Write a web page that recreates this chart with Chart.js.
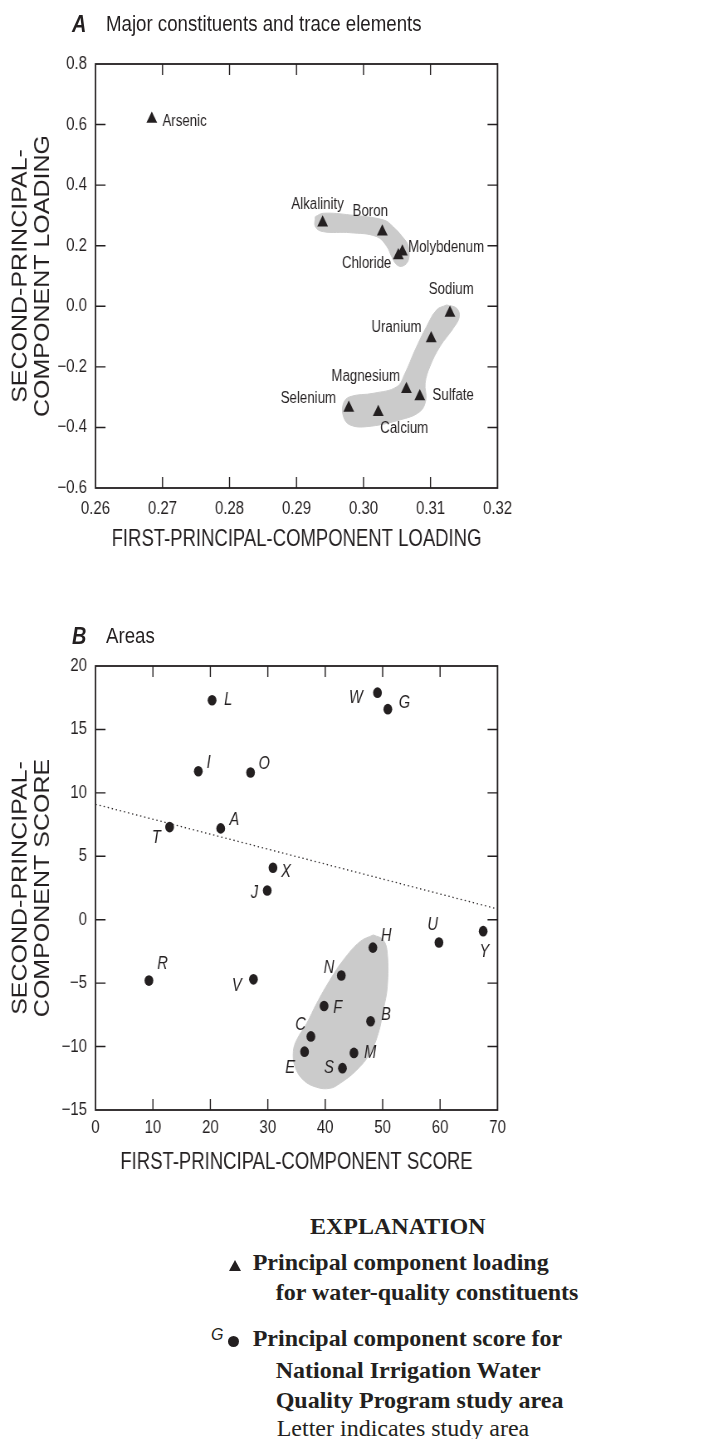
<!DOCTYPE html>
<html><head><meta charset="utf-8">
<script src="https://cdn.jsdelivr.net/npm/chart.js@4"></script>
<style>
html,body{margin:0;padding:0;background:#fff;}
body{width:703px;height:1439px;position:relative;overflow:hidden;}
.sq{position:absolute;left:0;width:847px;height:600px;transform:scaleX(0.83);transform-origin:0 0;}
.ttl{position:absolute;font-family:"Liberation Sans",Arial,sans-serif;font-size:22.5px;line-height:1;color:#231f20;white-space:nowrap;}
.ttl b{font-size:24px;font-style:italic;font-weight:bold;}
.ex{position:absolute;font-family:"Liberation Serif","Times New Roman",serif;font-size:24px;line-height:1;color:#231f20;white-space:nowrap;font-weight:bold;}
canvas{position:absolute;left:0;top:0;}
.tri{position:absolute;width:0;height:0;border-left:6.5px solid transparent;border-right:6.5px solid transparent;border-bottom:11px solid #231f20;}
.dot{position:absolute;width:11px;height:11px;border-radius:50%;background:#231f20;}
</style>
</head><body>
<div class="sq" style="top:0">
  <div class="ttl" style="left:86.7px;top:12px"><b>A</b></div>
  <div class="ttl" style="left:127.7px;top:12.5px">Major constituents and trace elements</div>
  <canvas id="cA" width="847" height="600" style="width:847px;height:600px"></canvas>
</div>
<div class="sq" style="top:600px">
  <div class="ttl" style="left:86.7px;top:24px"><b>B</b></div>
  <div class="ttl" style="left:127.7px;top:24.5px">Areas</div>
  <canvas id="cB" width="847" height="600" style="width:847px;height:600px"></canvas>
</div>

<div class="ex" style="left:310px;top:1214px;width:175px;text-align:center">EXPLANATION</div>
<div class="tri" style="left:228.5px;top:1259.5px"></div>
<div class="ex" style="left:252.7px;top:1249.7px">Principal component loading</div>
<div class="ex" style="left:275.7px;top:1279.7px">for water-quality constituents</div>
<div style="position:absolute;left:211px;top:1327px;font-family:'Liberation Sans',Arial,sans-serif;font-style:italic;font-size:16px;line-height:1;color:#231f20">G</div>
<div class="dot" style="left:228px;top:1336px"></div>
<div class="ex" style="left:252.7px;top:1326.3px">Principal component score for</div>
<div class="ex" style="left:275.7px;top:1358px">National Irrigation Water</div>
<div class="ex" style="left:275.7px;top:1388px">Quality Program study area</div>
<div class="ex" style="left:276.7px;top:1416.3px;font-weight:normal">Letter indicates study area</div>

<script>
// ---------- DATA ----------
const constituents = ['Arsenic','Alkalinity','Boron','Molybdenum','Chloride','Sodium','Uranium','Magnesium','Sulfate','Selenium','Calcium'];
const loading1 = [0.2684,0.2939,0.3028,0.3058,0.3052,0.3129,0.3101,0.3064,0.3084,0.2978,0.3022];
const loading2 = [0.618,0.276,0.246,0.180,0.168,-0.022,-0.106,-0.274,-0.298,-0.336,-0.350];

const areas  = ['L','W','G','I','O','T','A','X','J','U','Y','H','R','V','N','F','B','C','E','M','S'];
const score1 = [20.3,49.1,50.9,17.9,27.0,12.9,21.8,30.9,29.9,59.8,67.5,48.3,9.3,27.5,42.8,39.8,47.9,37.5,36.4,45.0,43.0];
const score2 = [17.3,17.9,16.6,11.7,11.6,7.3,7.2,4.1,2.3,-1.8,-0.9,-2.2,-4.8,-4.7,-4.4,-6.8,-8.0,-9.2,-10.4,-10.5,-11.7];

const xTicksA = ['0.26','0.27','0.28','0.29','0.30','0.31','0.32'];
const yTicksA = ['\u22120.6','\u22120.4','\u22120.2','0.0','0.2','0.4','0.6','0.8'];
const xTicksB = ['0','10','20','30','40','50','60','70'];
const yTicksB = ['\u221215','\u221210','\u22125','0','5','10','15','20'];

// dotted dividing line (panel B)
const trendX = [0, 70];
const trendY = [9.1, 0.85];

// shaded groups (outlines in data units)
const groupA1x = [0.2928,0.2940,0.2980,0.3030,0.3044,0.3062,0.3067,0.3067,0.3059,0.3050,0.3042,0.3035,0.3020,0.2980,0.2940,0.2928];
const groupA1y = [0.2959,0.3071,0.3015,0.2850,0.2629,0.2189,0.1968,0.1529,0.1331,0.1364,0.1638,0.1968,0.2298,0.2430,0.2464,0.2628];
const groupA2x = [0.3124,0.3139,0.3143,0.3134,0.3114,0.3099,0.3092,0.3093,0.3084,0.3054,0.3005,0.2980,0.2970,0.2970,0.2980,0.3015,0.3050,0.3062,0.3077,0.3094,0.3109];
const groupA2y = [0.0044,-0.0065,-0.0343,-0.0726,-0.1333,-0.1994,-0.2541,-0.3093,-0.3479,-0.3753,-0.3974,-0.3918,-0.3644,-0.3202,-0.2984,-0.2872,-0.2654,-0.2211,-0.1442,-0.0673,-0.0122];
const groupBx = [48.38,50.11,50.81,50.81,50.11,49.24,47.80,45.48,42.57,40.83,38.52,36.18,34.74,34.44,35.03,36.78,38.52,40.83,43.15,46.06];
const groupBy = [-1.2,-1.6,-2.65,-5.28,-7.12,-8.95,-10.53,-11.85,-12.9,-13.29,-13.21,-12.63,-11.59,-10.4,-9.48,-8.17,-6.59,-4.75,-3.18,-1.73];

// ---------- STYLE ----------
const S = 0.83;                    // horizontal compression of the figure
const INK = '#231f20';
const GREY = '#cbcbcb';
const FONT = '"Liberation Sans", Arial, sans-serif';
// label placement relative to marker (screen px): [dx, dy, align]
const placeA = [[10.6,2.5,'left'],[-5,-18.5,'center'],[-12,-20.5,'center'],[5.7,-4.5,'left'],[-7,8.5,'right'],
  [1.3,-23,'center'],[-9.6,-10.5,'right'],[-6.3,-12.5,'right'],[12.7,-0.5,'left'],[-12.7,-9.5,'right'],[2,16.5,'left']];
const placeB = [[16,0],[-21.7,5.3],[16.6,-6],[10.3,-8],[13.6,-8],[-13.3,11.3],[13.6,-8],[13,4.6],[-12.7,3],[-6.3,-17.3],
  [1.3,20.7],[13.3,-11],[13.7,-16],[-16.6,7],[-12.3,-7],[13.7,2.3],[15.4,-5.6],[-10.4,-11.3],[-14.3,16.3],[16.3,0.7],[-13.4,0]];

const toNum = s => parseFloat(s.replace('\u2212','-'));
const pts = (xs, ys) => xs.map((v,i)=>({x:v, y:ys[i]}));
const closed = (xs, ys) => { const p = pts(xs, ys); p.push({...p[0]}); return p; };

const framePlugin = {
  id: 'frame',
  afterDatasetsDraw(chart, args, o) {
    const {ctx, chartArea:a, scales:{x, y}} = chart;
    ctx.save();
    ctx.strokeStyle = INK;
    ctx.lineWidth = 1.4;
    const tl = 11, tly = 10 / S;
    x.ticks.forEach((t,i) => {
      if (i === 0 || i === x.ticks.length-1) return;
      const px = x.getPixelForValue(t.value);
      ctx.beginPath(); ctx.moveTo(px, a.bottom); ctx.lineTo(px, a.bottom - tl);
      ctx.moveTo(px, a.top); ctx.lineTo(px, a.top + tl); ctx.stroke();
    });
    y.ticks.forEach((t,i) => {
      if (i === 0 || i === y.ticks.length-1) return;
      const py = y.getPixelForValue(t.value);
      ctx.beginPath(); ctx.moveTo(a.left, py); ctx.lineTo(a.left + tly, py);
      ctx.moveTo(a.right, py); ctx.lineTo(a.right - tly, py); ctx.stroke();
    });
    ctx.lineWidth = 1.8;
    ctx.strokeRect(a.left, a.top, a.right - a.left, a.bottom - a.top);

    // point labels
    ctx.fillStyle = INK;
    ctx.textBaseline = 'middle';
    ctx.font = o.labelFont;
    const meta = chart.getDatasetMeta(o.pointDataset);
    o.labels.forEach((txt, i) => {
      const el = meta.data[i];
      const p = o.place[i];
      ctx.textAlign = p[2] || 'center';
      ctx.fillText(txt, el.x + p[0] / S, el.y + p[1]);
    });

    // axis titles
    ctx.font = '24.5px ' + FONT;
    ctx.textAlign = 'center';
    ctx.save();
    ctx.translate((a.left + a.right) / 2, o.xTitleY);
    ctx.scale(o.xTitleSqueeze, 1);
    ctx.fillText(o.xTitle, 0, 0);
    ctx.restore();
    ctx.font = '25px ' + FONT;
    const cy = (a.top + a.bottom) / 2;
    o.yTitle.forEach((line, k) => {
      ctx.save();
      ctx.translate(o.yTitleX[k] / S, cy);
      ctx.rotate(-Math.PI / 2);
      ctx.fillText(line, 0, 0);
      ctx.restore();
    });
    ctx.restore();
  }
};

function axis(labels, padding, fit, isX) {
  const vals = labels.map(toNum);
  return {
    type: 'linear',
    min: vals[0], max: vals[vals.length-1],
    grid: {display: false, drawTicks: false},
    border: {display: false},
    ticks: {
      padding: padding,
      color: INK,
      font: {family: FONT, size: 18},
      callback: (v, i) => labels[i]
    },
    afterBuildTicks: s => { s.ticks = vals.map(v => ({value: v})); },
    afterFit: s => { if (isX) s.height = fit; else s.width = fit; }
  };
}

Chart.defaults.font.family = FONT;

// ---------- PANEL A ----------
new Chart(document.getElementById('cA'), {
  type: 'scatter',
  data: {
    datasets: [
      {type:'line', data: closed(groupA1x, groupA1y), fill:'shape', backgroundColor: GREY, borderColor: GREY, borderWidth: 1, pointRadius: 0, tension: 0.4, order: 2},
      {type:'line', data: closed(groupA2x, groupA2y), fill:'shape', backgroundColor: GREY, borderColor: GREY, borderWidth: 1, pointRadius: 0, tension: 0.4, order: 2},
      {type:'scatter', data: pts(loading1, loading2), pointStyle: 'triangle', pointRadius: 7.5, backgroundColor: INK, borderWidth: 0, order: 0}
    ]
  },
  options: {
    responsive: false, animation: false, devicePixelRatio: 1, events: [],
    layout: {padding: {left: 0, right: 847 - 497.5 / S, top: 64, bottom: 0}},
    scales: {
      x: axis(xTicksA, 10.4, 600 - 488, true),
      y: axis(yTicksA, 10.2, 95.5 / S, false)
    },
    plugins: {
      legend: {display: false}, tooltip: {enabled: false},
      frame: {
        pointDataset: 2, labels: constituents, place: placeA, labelFont: '16px ' + FONT,
        xTitle: 'FIRST-PRINCIPAL-COMPONENT LOADING', xTitleY: 539.7, xTitleSqueeze: 0.91,
        yTitle: ['SECOND-PRINCIPAL-', 'COMPONENT LOADING'], yTitleX: [21, 43]
      }
    }
  },
  plugins: [framePlugin]
});

// ---------- PANEL B ----------
new Chart(document.getElementById('cB'), {
  type: 'scatter',
  data: {
    datasets: [
      {type:'line', data: closed(groupBx, groupBy), fill:'shape', backgroundColor: GREY, borderColor: GREY, borderWidth: 1, pointRadius: 0, tension: 0.4, order: 2},
      {type:'line', data: pts(trendX, trendY), fill: false, borderColor: INK, borderWidth: 1.3, borderDash: [1.5, 3.5], pointRadius: 0, order: 1},
      {type:'scatter', data: pts(score1, score2), pointStyle: 'circle', pointRadius: 5.3, backgroundColor: INK, borderWidth: 0, order: 0}
    ]
  },
  options: {
    responsive: false, animation: false, devicePixelRatio: 1, events: [],
    layout: {padding: {left: 0, right: 847 - 497.5 / S, top: 66, bottom: 0}},
    scales: {
      x: axis(xTicksB, 7.1, 600 - 510, true),
      y: axis(yTicksB, 10.2, 95.5 / S, false)
    },
    plugins: {
      legend: {display: false}, tooltip: {enabled: false},
      frame: {
        pointDataset: 2, labels: areas, place: placeB, labelFont: 'italic 17.5px ' + FONT,
        xTitle: 'FIRST-PRINCIPAL-COMPONENT SCORE', xTitleY: 562.5, xTitleSqueeze: 0.91,
        yTitle: ['SECOND-PRINCIPAL-', 'COMPONENT SCORE'], yTitleX: [21, 43]
      }
    }
  },
  plugins: [framePlugin]
});
</script>
</body></html>
